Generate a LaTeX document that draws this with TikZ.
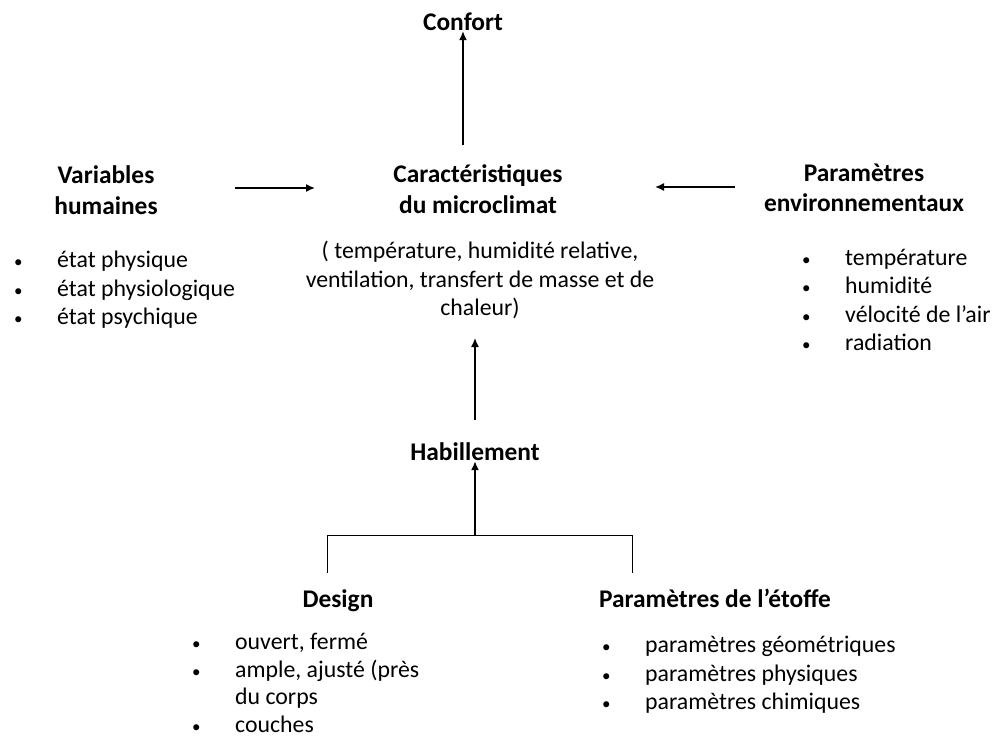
\documentclass[tikz,border=0pt]{standalone}
\usepackage{fontspec}
\setmainfont{Carlito}
\usetikzlibrary{arrows.meta,positioning}
\newcommand{\txt}{\fontsize{23.8}{28.5}\selectfont}
\newcommand{\hdtxt}{\fontsize{25.4}{30.5}\selectfont\bfseries}
\newcommand{\itm}{\makebox[43pt][l]{\fontsize{17}{17}\selectfont\textbullet}}

\begin{document}
\begin{tikzpicture}[
    x=1pt, y=-1pt,
    head/.style={font=\hdtxt, align=center, inner sep=0pt},
    plain/.style={font=\txt, align=center, inner sep=0pt},
    liste/.style={font=\txt, align=left, inner sep=0pt, anchor=north west},
    arrow/.style={-{Latex[length=9pt,width=8pt]}, line width=1.5pt},
    bracket/.style={line width=1pt}
]
\useasboundingbox (0,0) rectangle (994,738);

% Centre: microclimat
\node[head] (micro) at (478,189) {Caractéristiques\\du microclimat};
\node[plain] (microtxt) at (480,280) {( température, humidité relative,\\ventilation, transfert de masse et de\\chaleur)};
\node[head] (confort) at (463,22) {Confort};

% Gauche: variables humaines
\node[head] (varhum) at (106,190) {Variables\\humaines};
\node[liste] (varlist) at (14,251) {\itm état physique\\\itm état physiologique\\\itm état psychique};

% Droite: parametres environnementaux
\node[head] (envpar) at (864,188) {Paramètres\\environnementaux};
\node[liste] (envlist) at (802,249) {\itm température\\\itm humidité\\\itm vélocité de l’air\\\itm radiation};

% Bas: habillement
\node[head] (habil) at (475,452) {Habillement};
\node[head, anchor=base] (design) at (338,607) {Design};
\node[head, anchor=base] (etoffe) at (715,607) {Paramètres de l’étoffe};
\node[liste, font=\fontsize{23.8}{27.5}\selectfont] (designlist) at (192,633) {\itm ouvert, fermé\\\itm ample, ajusté (près\\\hspace*{43pt}du corps\\\itm couches};
\node[liste] (etofflist) at (602,636) {\itm paramètres géométriques\\\itm paramètres physiques\\\itm paramètres chimiques};

% Fleches
\coordinate (cfbas) at (463,145);
\coordinate (vhfin) at (315,188);
\coordinate (vhdeb) at (235,188);
\coordinate (epdeb) at (735,187);
\coordinate (epfin) at (655,187);
\coordinate (hbhaut) at (475,338);
\coordinate (hbbas) at (475,420);
\coordinate (crochet) at (475,535);

\draw[arrow] (cfbas) -- (confort);
\draw[arrow] (vhdeb) -- (vhfin);
\draw[arrow] (epdeb) -- (epfin);
\draw[arrow] (hbbas) -- (hbhaut);
\draw[arrow] (crochet) -- (habil);
\draw[bracket] (327,573) -- (327,535) -- (632,535) -- (632,573);

\end{tikzpicture}
\end{document}
